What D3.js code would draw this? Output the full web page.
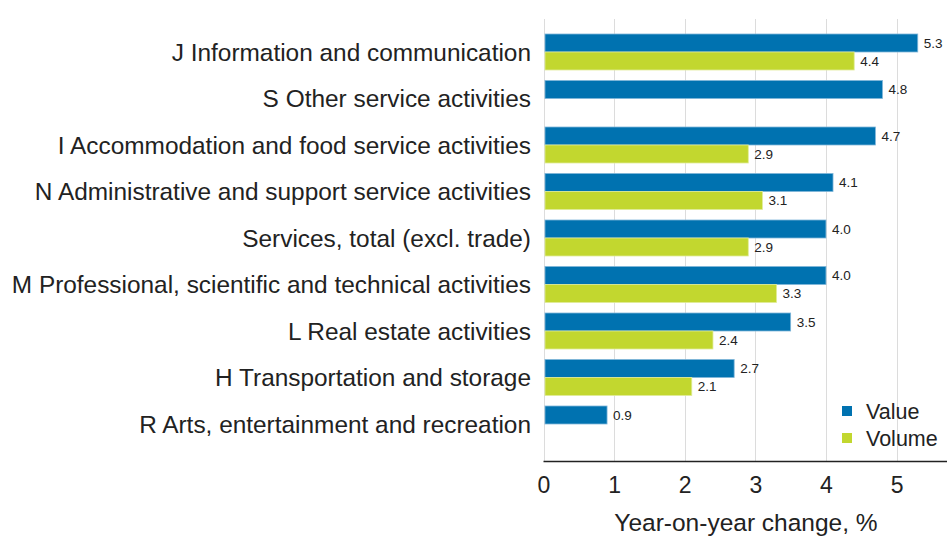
<!doctype html>
<html lang="en">
<head>
<meta charset="utf-8">
<title>Year-on-year change</title>
<script src="https://cdn.jsdelivr.net/npm/d3@7/dist/d3.min.js"></script>
<style>
	body { margin: 0; background: #fff; }
	svg { display: block; font-family: "Liberation Sans", Arial, sans-serif; }
	.grid line { stroke: #dcdcdc; stroke-width: 1; shape-rendering: crispEdges; }
	.cat-label { font-size: 24.4px; fill: #222; }
	.val-label { font-size: 13.5px; fill: #222; }
	.x-axis text { font-size: 23px; fill: #222; }
	.legend text { font-size: 21.5px; fill: #222; }
</style>
</head>
<body>
<div id="viz"></div>
<script>
(function(d3) {

	// Data
	var categories = [
		"J Information and communication",
		"S Other service activities",
		"I Accommodation and food service activities",
		"N Administrative and support service activities",
		"Services, total (excl. trade)",
		"M Professional, scientific and technical activities",
		"L Real estate activities",
		"H Transportation and storage",
		"R Arts, entertainment and recreation"
	];
	var valueSeries = [5.3, 4.8, 4.7, 4.1, 4.0, 4.0, 3.5, 2.7, 0.9];
	var volumeSeries = [4.4, null, 2.9, 3.1, 2.9, 3.3, 2.4, 2.1, null];
	var xTicks = [0, 1, 2, 3, 4, 5];
	var seriesNames = ["Value", "Volume"];
	var seriesColors = ["#0072b0", "#c2d72f"];

	// Dimensions
	var w = 947, h = 538;
	var plot = {left: 543.5, right: 946, top: 19, bottom: 461};

	var svg = d3.select("#viz").append("svg")
		.attr("width", w)
		.attr("height", h);

	// Scales
	var x = d3.scaleLinear()
		.domain([0, 5.7])
		.range([plot.left, plot.right]);

	var y = d3.scaleBand()
		.domain(categories)
		.range([28.75, 447.25])
		.paddingInner(0);

	var barH = 18;

	// Gridlines (incl. light line at 0)
	svg.append("g").attr("class", "grid")
		.selectAll("line")
		.data(xTicks)
		.enter().append("line")
		.attr("x1", function(d) { return Math.round(x(d)) + 0.5; })
		.attr("x2", function(d) { return Math.round(x(d)) + 0.5; })
		.attr("y1", plot.top)
		.attr("y2", plot.bottom);

	// Rows: one blue + one green bar per category
	var rows = categories.map(function(c, i) {
		return {cat: c, vals: [valueSeries[i], volumeSeries[i]]};
	});

	var row = svg.selectAll("g.row")
		.data(rows)
		.enter().append("g")
		.attr("class", "row")
		.attr("transform", function(d) {
			return "translate(0," + (y(d.cat) + y.bandwidth() / 2) + ")";
		});

	var bars = row.selectAll("g.bar")
		.data(function(d) {
			return d.vals.map(function(v, k) { return {v: v, k: k}; })
				.filter(function(o) { return o.v !== null; });
		})
		.enter().append("g")
		.attr("class", "bar");

	bars.append("rect")
		.attr("x", x(0) + 1.5)
		.attr("y", function(d) { return d.k === 0 ? -barH : 0; })
		.attr("width", function(d) { return x(d.v) - x(0) - 1.5; })
		.attr("height", barH)
		.attr("fill", function(d) { return seriesColors[d.k]; })
		.attr("stroke", function(d) { return d.k === 0 ? "#7fb6d9" : "#e0ec98"; })
		.attr("stroke-width", 0.8);

	bars.append("text")
		.attr("class", "val-label")
		.attr("x", function(d) { return x(d.v) + 6; })
		.attr("y", function(d) { return d.k === 0 ? -barH / 2 : barH / 2; })
		.attr("dy", "0.35em")
		.text(function(d) { return d3.format(".1f")(d.v); });

	// Category labels
	svg.selectAll("text.cat-label")
		.data(categories)
		.enter().append("text")
		.attr("class", "cat-label")
		.attr("x", 531)
		.attr("y", function(d) { return y(d) + y.bandwidth() / 2; })
		.attr("dy", "0.35em")
		.style("text-anchor", "end")
		.text(function(d) { return d; });

	// X axis
	var xAxis = d3.axisBottom(x)
		.tickValues(xTicks)
		.tickSize(0)
		.tickPadding(16)
		.tickFormat(d3.format("d"));

	var gx = svg.append("g")
		.attr("class", "x-axis")
		.attr("transform", "translate(0," + plot.bottom + ")")
		.call(xAxis);
	gx.select(".domain").remove();
	gx.append("line")
		.attr("x1", plot.left)
		.attr("x2", w)
		.attr("y1", 0.5)
		.attr("y2", 0.5)
		.attr("stroke", "#222")
		.attr("stroke-width", 1.5);
	gx.selectAll("text").attr("font-family", null).attr("font-size", null);

	svg.append("text")
		.attr("x", 746)
		.attr("y", 531)
		.style("text-anchor", "middle")
		.style("font-size", "24.5px")
		.style("fill", "#222")
		.text("Year-on-year change, %");

	// Legend
	var legend = svg.append("g").attr("class", "legend")
		.selectAll("g")
		.data(seriesNames)
		.enter().append("g")
		.attr("transform", function(d, i) { return "translate(842," + (411 + i * 27) + ")"; });

	legend.append("rect")
		.attr("x", 0)
		.attr("y", -5)
		.attr("width", 10)
		.attr("height", 10)
		.attr("fill", function(d, i) { return seriesColors[i]; });

	legend.append("text")
		.attr("x", 24)
		.attr("y", 0)
		.attr("dy", "0.35em")
		.text(function(d) { return d; });

})(d3);
</script>
</body>
</html>
